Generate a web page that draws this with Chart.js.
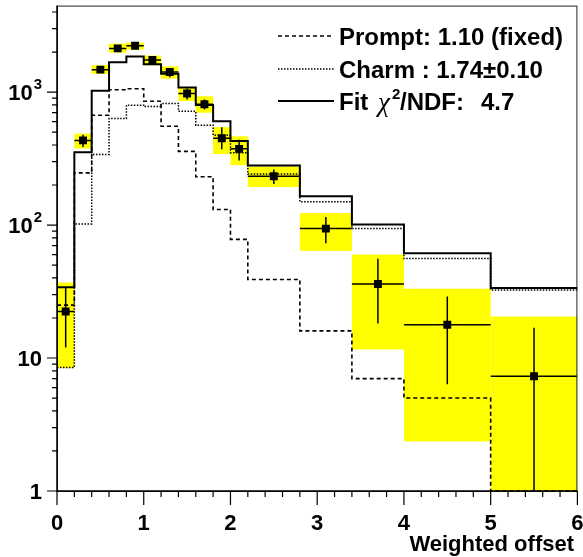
<!DOCTYPE html>
<html>
<head>
<meta charset="utf-8">
<script src="https://cdn.jsdelivr.net/npm/chart.js@4.4.1/dist/chart.umd.min.js"></script>
<style>
  html, body { margin: 0; padding: 0; background: #fff; }
  canvas { display: block; }
</style>
</head>
<body>
<canvas id="offsetChart" width="583" height="557"></canvas>
<script>
// bin edges of the weighted offset histogram (variable widths)
const binEdges = [0, 0.2, 0.4, 0.6, 0.8, 1.0, 1.2, 1.4, 1.6, 1.8, 2.0, 2.2, 2.8, 3.4, 4.0, 5.0, 6.0];

// template histograms (one value per bin)
const promptHist = [25, 247, 670, 1040, 1060, 853, 553, 358, 231, 131, 78, 39, 16, 7.0, 5.0, 1.0];
const charmHist = [8.5, 102, 340, 632, 796, 778, 822, 718, 564, 473, 350, 242, 150, 94, 56, 32.5];
const fitHist = [34, 353, 1025, 1675, 1855, 1620, 1376, 1082, 800, 604, 428, 281, 165, 101, 61.4, 33.6];

// measured data (bin centres)
const pointX = [0.1, 0.3, 0.5, 0.7, 0.9, 1.1, 1.3, 1.5, 1.7, 1.9, 2.1, 2.5, 3.1, 3.7, 4.5, 5.5];
const dataY = [22.4, 433, 1475, 2130, 2233, 1742, 1415, 975, 811, 450, 374, 233, 94, 36, 17.8, 7.3];
const statLow = [12.0, 386, 1410, 2025, 2140, 1645, 1290, 878, 740, 372, 306, 204, 73, 18.2, 6.35, 0.5];
const statHigh = [33.6, 478, 1545, 2235, 2330, 1840, 1515, 1062, 880, 545, 438, 262, 115, 55.7, 29, 16.9];
const sysLow = [8.4, 376, 1370, 1980, 2085, 1590, 1260, 855, 700, 342, 282, 193, 64, 11.6, 2.36, 0.5];
const sysHigh = [37, 487, 1595, 2310, 2360, 1880, 1560, 1085, 930, 545, 465, 275, 123, 60, 33.2, 20.5];

// axis ticks
const xMajorTicks = [0, 1, 2, 3, 4, 5, 6];
const yMajorTicks = [1, 10, 100, 1000];
const yTickLabels = [['1', ''], ['10', ''], ['10', '2'], ['10', '3']];

const legendRows = [
    { text: 'Prompt: 1.10 (fixed)', dash: [4, 3], width: 1.5 },
    { text: 'Charm : 1.74\u00b10.10', dash: [1.5, 1.5], width: 1.5 },
    { text: 'Fit', dash: [], width: 2 }
];

const FONT_FAMILY = '"Liberation Sans", Arial, Helvetica, sans-serif';

function stepPoints(values) {
    const pts = values.map((v, i) => ({ x: binEdges[i], y: v }));
    pts.push({ x: binEdges[binEdges.length - 1], y: values[values.length - 1] });
    return pts;
}

const rootStyle = {
    id: 'rootStyle',
    beforeDatasetsDraw(chart) {
        const { ctx, chartArea: a, scales: { x, y } } = chart;
        ctx.save();
        ctx.beginPath();
        ctx.rect(a.left, a.top, a.right - a.left, a.bottom - a.top);
        ctx.clip();
        ctx.fillStyle = '#ffff00';
        pointX.forEach((px, i) => {
            const x0 = x.getPixelForValue(binEdges[i]);
            const x1 = x.getPixelForValue(binEdges[i + 1]);
            const y0 = y.getPixelForValue(sysHigh[i]);
            const y1 = y.getPixelForValue(sysLow[i]);
            ctx.fillRect(x0, y0, x1 - x0, y1 - y0);
        });
        ctx.restore();
    },
    afterDatasetsDraw(chart) {
        const { ctx, chartArea: a, scales: { x, y } } = chart;
        ctx.save();
        ctx.beginPath();
        ctx.rect(a.left, a.top, a.right - a.left, a.bottom - a.top);
        ctx.clip();
        ctx.strokeStyle = '#000';
        ctx.lineWidth = 1.5;
        pointX.forEach((px, i) => {
            const cx = x.getPixelForValue(px);
            const cy = y.getPixelForValue(dataY[i]);
            ctx.beginPath();
            ctx.moveTo(x.getPixelForValue(binEdges[i]), cy);
            ctx.lineTo(x.getPixelForValue(binEdges[i + 1]), cy);
            ctx.moveTo(cx, y.getPixelForValue(statHigh[i]));
            ctx.lineTo(cx, y.getPixelForValue(statLow[i]));
            ctx.stroke();
        });
        ctx.restore();
    },
    afterDraw(chart) {
        const { ctx, chartArea: a, scales: { x, y } } = chart;
        ctx.save();

        // frame
        ctx.strokeStyle = '#222';
        ctx.lineWidth = 1;
        ctx.strokeRect(a.left + 0.5, a.top + 0.5, a.right - a.left - 1, a.bottom - a.top);
        ctx.strokeStyle = '#000';
        ctx.lineWidth = 1.5;
        ctx.beginPath();
        ctx.moveTo(a.left, a.top);
        ctx.lineTo(a.left, a.bottom);
        ctx.lineTo(a.right, a.bottom);
        ctx.stroke();

        // x ticks
        ctx.lineWidth = 1.2;
        ctx.beginPath();
        for (let i = 0; i <= 30; i++) {
            const v = i * 0.2;
            const px = x.getPixelForValue(v);
            const major = i % 5 === 0;
            ctx.moveTo(px, a.bottom);
            ctx.lineTo(px, a.bottom + (major ? 14 : 6));
        }
        // y ticks (log)
        for (let d = 0; d <= 3; d++) {
            for (let m = 1; m <= 9; m++) {
                const v = m * Math.pow(10, d);
                if (v > y.max) break;
                const py = y.getPixelForValue(v);
                ctx.moveTo(a.left, py);
                ctx.lineTo(a.left - (m === 1 ? 10 : 5), py);
            }
        }
        ctx.stroke();

        ctx.fillStyle = '#000';
        // x labels
        ctx.font = 'bold 22px ' + FONT_FAMILY;
        ctx.textAlign = 'center';
        ctx.textBaseline = 'alphabetic';
        xMajorTicks.forEach(v => {
            ctx.fillText(String(v), x.getPixelForValue(v), 530);
        });

        // y labels with exponents
        ctx.textBaseline = 'middle';
        ctx.textAlign = 'left';
        yMajorTicks.forEach((v, i) => {
            const [base, sup] = yTickLabels[i];
            const py = y.getPixelForValue(v);
            ctx.font = 'bold 22px ' + FONT_FAMILY;
            const bw = ctx.measureText(base).width;
            ctx.font = 'bold 15px ' + FONT_FAMILY;
            const sw = sup ? ctx.measureText(sup).width + 1 : 0;
            const x0 = 42 - bw - sw;
            ctx.font = 'bold 22px ' + FONT_FAMILY;
            ctx.fillText(base, x0, py + 2);
            if (sup) {
                ctx.font = 'bold 15px ' + FONT_FAMILY;
                ctx.fillText(sup, x0 + bw + 1, py - 7);
            }
        });

        // axis title
        ctx.font = 'bold 22px ' + FONT_FAMILY;
        ctx.textAlign = 'right';
        ctx.textBaseline = 'alphabetic';
        ctx.fillText('Weighted offset', 574, 551);

        // legend
        const rowY = [36, 69, 101];
        legendRows.forEach((row, i) => {
            ctx.strokeStyle = '#000';
            ctx.lineWidth = row.width;
            ctx.setLineDash(row.dash);
            ctx.beginPath();
            ctx.moveTo(278, rowY[i]);
            ctx.lineTo(334, rowY[i]);
            ctx.stroke();
            ctx.setLineDash([]);
            ctx.font = 'bold 24px ' + FONT_FAMILY;
            ctx.textAlign = 'left';
            ctx.textBaseline = 'alphabetic';
            ctx.fillText(row.text, 339, rowY[i] + 9);
        });
        // chi2 part of the fit row
        const fy = rowY[2] + 9;
        ctx.font = 'italic 27px "Liberation Serif", "DejaVu Serif", serif';
        ctx.fillText('\u03c7', 378, fy + 1);
        ctx.font = 'bold 15px ' + FONT_FAMILY;
        ctx.fillText('2', 392, fy - 11);
        ctx.font = 'bold 24px ' + FONT_FAMILY;
        ctx.fillText('/NDF:', 400, fy);
        ctx.fillText('4.7', 481, fy);

        ctx.restore();
    }
};

const histStyle = {
    type: 'line',
    stepped: 'before',
    pointRadius: 0,
    fill: false,
    borderColor: '#000',
    clip: 3
};

new Chart(document.getElementById('offsetChart'), {
    type: 'scatter',
    data: {
        datasets: [
            {
                label: 'Data',
                data: pointX.map((v, i) => ({ x: v, y: dataY[i] })),
                pointStyle: 'rect',
                pointRadius: 5.6,
                pointBorderWidth: 0,
                backgroundColor: '#000',
                borderColor: '#000'
            },
            { ...histStyle, label: 'Fit', data: stepPoints(fitHist), borderWidth: 2 },
            { ...histStyle, label: 'Charm', data: stepPoints(charmHist), borderWidth: 1.5, borderDash: [1.5, 1.5] },
            { ...histStyle, label: 'Prompt', data: stepPoints(promptHist), borderWidth: 1.6, borderDash: [4, 3] }
        ]
    },
    options: {
        responsive: false,
        animation: false,
        devicePixelRatio: 1,
        layout: { padding: { left: 57, right: 4, top: 4, bottom: 66 } },
        plugins: {
            legend: { display: false },
            tooltip: { enabled: false }
        },
        scales: {
            x: { type: 'linear', min: 0, max: 6, display: false },
            y: { type: 'logarithmic', min: 1, max: 4470, display: false }
        }
    },
    plugins: [rootStyle]
});
</script>
</body>
</html>
